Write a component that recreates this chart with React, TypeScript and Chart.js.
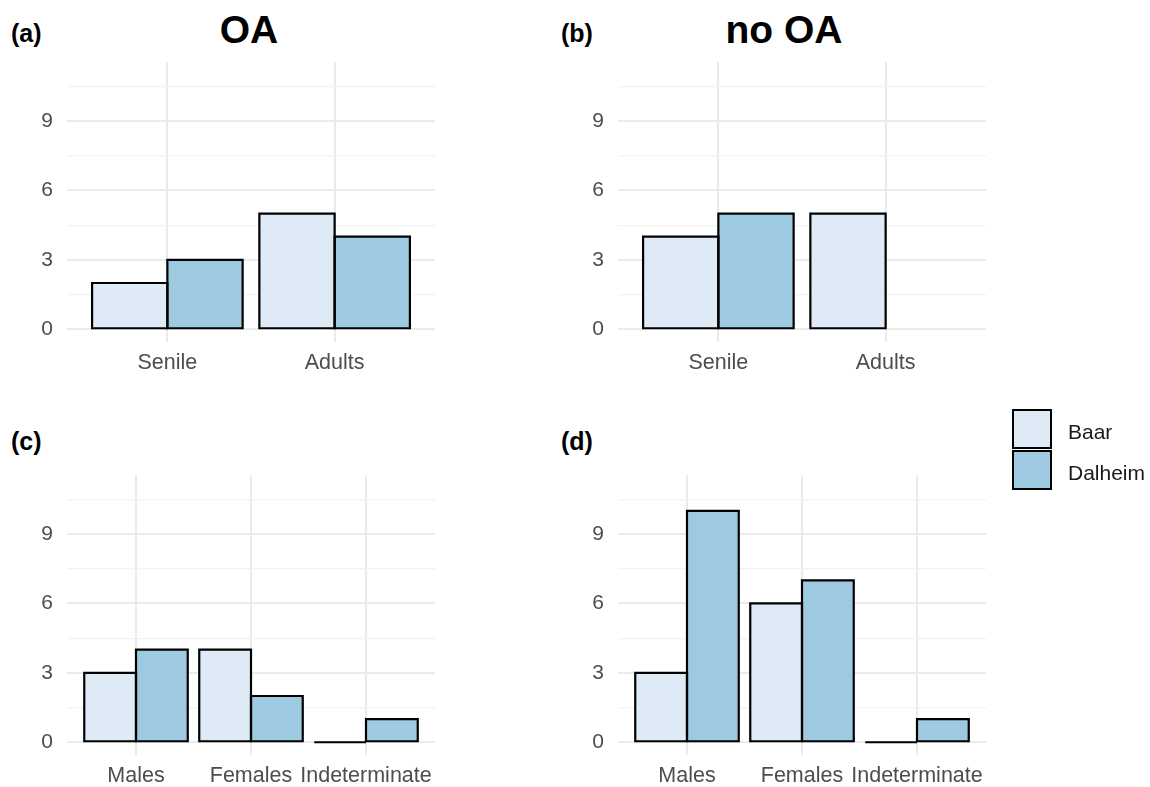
import React, { useEffect, useRef } from 'react';
import { Chart, registerables } from 'chart.js';

Chart.register(...registerables);

const FONT = "'Liberation Sans', Arial, Helvetica, sans-serif";
Chart.defaults.font.family = FONT;

// ---- data ----
const ageCategories = ['Senile', 'Adults'];
const sexCategories = ['Males', 'Females', 'Indeterminate'];
const seriesNames = ['Baar', 'Dalheim'];
const seriesColors = ['#deebf7', '#9ecae1'];

const oaAgeBaar: (number | null)[] = [2, 5];
const oaAgeDalheim: (number | null)[] = [3, 4];
const noOaAgeBaar: (number | null)[] = [4, 5];
const noOaAgeDalheim: (number | null)[] = [5, null];
const oaSexBaar: (number | null)[] = [3, 4, 0];
const oaSexDalheim: (number | null)[] = [4, 2, 1];
const noOaSexBaar: (number | null)[] = [3, 6, 0];
const noOaSexDalheim: (number | null)[] = [10, 7, 1];

const yTickValues = [0, 1.5, 3, 4.5, 6, 7.5, 9, 10.5];
const Y_MIN = -0.55;
const Y_MAX = 11.55;

// ---- layout ----
const PANEL_W = 368;
const PANEL_H = 280;
const Y_AXIS_W = 60;
const X_AXIS_H = 40;
const PAD_TOP = 30;
const PAD_RIGHT = 30;
const PAD_BOTTOM = 10;
const OUTLINE_W = 2.2;

// Strokes each bar outline centred on its edges (ggplot style), using the bar elements' geometry.
const barOutlinePlugin = {
  id: 'barOutline',
  afterDatasetsDraw(chart: any) {
    const ctx = chart.ctx;
    ctx.save();
    ctx.strokeStyle = '#000000';
    ctx.lineWidth = OUTLINE_W;
    ctx.lineJoin = 'miter';
    chart.data.datasets.forEach((_: any, di: number) => {
      const meta = chart.getDatasetMeta(di);
      meta.data.forEach((el: any) => {
        const { x, y, base, width } = el.getProps(['x', 'y', 'base', 'width'], true);
        const top = Math.min(y, base);
        const h = Math.abs(base - y);
        ctx.beginPath();
        if (h < 0.5) {
          ctx.moveTo(x - width / 2, base);
          ctx.lineTo(x + width / 2, base);
        } else {
          ctx.rect(x - width / 2, top, width, h);
        }
        ctx.stroke();
      });
    });
    ctx.restore();
  },
};

type PanelProps = {
  categories: string[];
  baar: (number | null)[];
  dalheim: (number | null)[];
  panelLeft: number;
  panelTop: number;
};

function BarPanel({ categories, baar, dalheim, panelLeft, panelTop }: PanelProps) {
  const ref = useRef<HTMLCanvasElement | null>(null);
  const cw = Y_AXIS_W + PANEL_W + PAD_RIGHT;
  const ch = PAD_TOP + PANEL_H + X_AXIS_H + PAD_BOTTOM;

  useEffect(() => {
    if (!ref.current) return;
    const n = categories.length;
    const values = [baar, dalheim];
    const toPoints = (vals: (number | null)[]) =>
      vals.map((v, i) => ({ x: i + 1, y: v })).filter((p) => p.y !== null);

    const datasets = values.map((vals, s) => ({
      label: seriesNames[s],
      data: toPoints(vals),
      backgroundColor: seriesColors[s],
      borderWidth: 0,
      inflateAmount: 0,
      categoryPercentage: 0.9,
      barPercentage: 1,
    }));

    const chart = new Chart(ref.current, {
      type: 'bar',
      data: { datasets: datasets as any },
      plugins: [barOutlinePlugin],
      options: {
        responsive: false,
        animation: false,
        devicePixelRatio: 1,
        layout: { padding: { top: PAD_TOP, right: PAD_RIGHT, bottom: PAD_BOTTOM, left: 0 } },
        plugins: { legend: { display: false }, tooltip: { enabled: false }, title: { display: false } },
        scales: {
          x: {
            type: 'linear',
            min: 0.4,
            max: n + 0.6,
            offset: false,
            bounds: 'data',
            grid: { offset: false, color: '#ebebeb', lineWidth: 2, drawTicks: false },
            border: { display: false },
            afterBuildTicks: (scale: any) => {
              scale.ticks = categories.map((_, i) => ({ value: i + 1 }));
            },
            afterFit: (scale: any) => {
              scale.height = X_AXIS_H;
            },
            ticks: {
              autoSkip: false,
              maxRotation: 0,
              minRotation: 0,
              padding: 8,
              color: '#4d4d4d',
              font: { size: 21.5, family: FONT },
              callback: (v: any) => categories[Math.round(Number(v)) - 1] ?? '',
            },
          },
          y: {
            type: 'linear',
            min: Y_MIN,
            max: Y_MAX,
            bounds: 'data',
            grid: {
              drawTicks: false,
              color: (ctx: any) => (ctx.tick && ctx.tick.value % 3 === 0 ? '#ebebeb' : '#f2f2f2'),
              lineWidth: (ctx: any) => (ctx.tick && ctx.tick.value % 3 === 0 ? 2 : 1.2),
            },
            border: { display: false },
            afterBuildTicks: (scale: any) => {
              scale.ticks = yTickValues.map((v) => ({ value: v }));
            },
            afterFit: (scale: any) => {
              scale.width = Y_AXIS_W;
            },
            ticks: {
              autoSkip: false,
              padding: 14,
              color: '#4d4d4d',
              font: { size: 21, family: FONT },
              callback: (v: any) => (Number(v) % 3 === 0 ? String(v) : ''),
            },
          },
        },
      } as any,
    });
    return () => chart.destroy();
  }, []);

  return (
    <canvas
      ref={ref}
      width={cw}
      height={ch}
      style={{
        position: 'absolute',
        left: panelLeft - Y_AXIS_W,
        top: panelTop - PAD_TOP,
        width: cw,
        height: ch,
      }}
    />
  );
}

function Label({ text, left, top, size, bold, center, color }: any) {
  return (
    <div
      style={{
        position: 'absolute',
        left: center ? left - 150 : left,
        width: center ? 300 : undefined,
        textAlign: center ? 'center' : 'left',
        top,
        fontFamily: FONT,
        fontSize: size,
        fontWeight: bold ? 'bold' : 'normal',
        lineHeight: 1,
        whiteSpace: 'nowrap',
        color: color || '#000',
      }}
    >
      {text}
    </div>
  );
}

export default function App() {
  return (
    <div
      style={{
        position: 'absolute',
        left: 0,
        top: 0,
        width: 1150,
        height: 787,
        background: '#ffffff',
        overflow: 'hidden',
      }}
    >
      <Label text="(a)" left={11} top={21} size={25} bold />
      <Label text="(b)" left={561} top={21} size={25} bold />
      <Label text="(c)" left={11} top={429} size={25} bold />
      <Label text="(d)" left={561} top={429} size={25} bold />
      <Label text="OA" left={249} top={10} size={39} bold center />
      <Label text="no OA" left={784} top={10} size={39} bold center />

      <BarPanel categories={ageCategories} baar={oaAgeBaar} dalheim={oaAgeDalheim} panelLeft={67} panelTop={62} />
      <BarPanel categories={ageCategories} baar={noOaAgeBaar} dalheim={noOaAgeDalheim} panelLeft={618} panelTop={62} />
      <BarPanel categories={sexCategories} baar={oaSexBaar} dalheim={oaSexDalheim} panelLeft={67} panelTop={475} />
      <BarPanel categories={sexCategories} baar={noOaSexBaar} dalheim={noOaSexDalheim} panelLeft={618} panelTop={475} />

      {seriesNames.map((name, i) => (
        <React.Fragment key={name}>
          <div
            style={{
              position: 'absolute',
              left: 1012,
              top: 409 + i * 41,
              width: 40,
              height: 40,
              boxSizing: 'border-box',
              border: '2px solid #000',
              background: seriesColors[i],
            }}
          />
          <Label text={name} left={1068} top={421 + i * 41} size={21} color="#1a1a1a" />
        </React.Fragment>
      ))}
    </div>
  );
}
